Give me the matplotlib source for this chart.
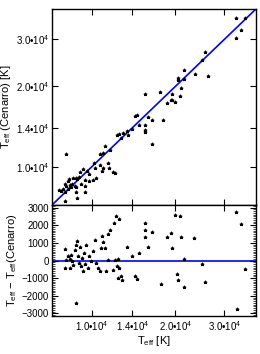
import matplotlib
matplotlib.use('Agg')
import matplotlib.pyplot as plt
from matplotlib.ticker import FixedLocator, MultipleLocator, NullLocator

plt.rcParams['font.family'] = ['Liberation Sans', 'DejaVu Sans']
plt.rcParams['mathtext.fontset'] = 'custom'
plt.rcParams['mathtext.rm'] = 'Liberation Sans'
plt.rcParams['mathtext.it'] = 'Liberation Sans'

# upper panel: T_eff vs T_eff(Cenarro)
teff = [33100, 35500, 34400, 33000, 25500, 25000, 21500, 23500, 26200, 20400,
        20500, 21400, 15500, 17600, 21000, 19400, 19500, 20800, 18700, 19300,
        19900, 14300, 14500, 16000, 16500, 18000, 14000, 14800, 15600, 15500,
        15600, 16500,
        12300, 12500, 12700, 13000, 13400, 13500, 11200, 8100, 10200, 9600,
        10250, 10700, 11000, 11400, 11550, 11900, 12100, 10900, 9100, 9300,
        9800, 8200, 8300, 8560, 8750, 8850, 9000, 7990, 8100, 8330,
        8500, 8680, 8800, 8450, 8200, 7870, 7770, 7660, 7990, 8800,
        9440, 8850, 8050, 9800, 10100, 10400, 9440, 9180, 9500, 10700,
        11000, 11600]
teff_cen = [36100, 36100, 32400, 30400, 26900, 25200, 23000, 22300, 21900, 21500,
            21200, 21400, 18700, 19000, 19700, 18800, 17800, 18400, 17400, 17800,
            17500, 15500, 15600, 15300, 15000, 15000, 13800, 14400, 14300, 13700,
            13500, 12200,
            13100, 13300, 12800, 13400, 13600, 13200, 12000, 11200, 10300, 9660,
            9940, 10200, 9940, 10300, 9940, 9600, 9500, 9660, 9580, 9800,
            9390, 8870, 9000, 9070, 9120, 9000, 9180, 8620, 8490, 8570,
            8660, 8490, 8370, 8370, 8250, 8250, 8090, 8180, 8020, 8020,
            8020, 7640, 7470, 8870, 8920, 9070, 8920, 8620, 8490, 11150,
            11300, 11600]

# lower panel: T_eff - T_eff(Cenarro)
teff_res = [15600, 18700, 21000, 23400, 16000, 19500, 14000, 14800, 21400, 25000,
            35600, 14300, 14500, 20300, 20500, 17700, 25600, 21500, 33300, 32900,
            34500, 15600, 20000, 20800, 15500, 16500, 19300,
            8050, 8800, 7990, 8200, 8330, 8450, 8500, 8600, 8680, 8750,
            8850, 8920, 9000, 9100, 9180, 9250, 9350, 9460, 9570, 9700,
            9800, 9970, 10100, 10250, 10400, 10500, 10700, 10800, 10900, 11000,
            11200, 11300, 11450, 12100, 12300, 12450, 12550, 12700, 12800, 12450,
            11950, 9300, 8330, 8100,
            12200, 12500, 12000, 11600, 11400, 13400]
dteff = [1340, 1340, 1340, 1285, 750, 720, 245, 435, 95, -190,
         -470, -890, -1020, -790, -1130, -1320, -1230, -1490, -2730, 2770,
         2050, 2150, 2600, 2510, 1750, 1640, 1570,
         640, -2430, -415, 245, 115, 340, 0, -225, 620, 905,
         1130, 245, -130, 750, -320, 150, 435, -190, 905, -415,
         245, -40, 525, 1190, -130, -415, -565, 720, 1375, 1060,
         720, -600, 55, 55, -320, 95, -415, -890, -1075, -980,
         -510, -600, -415, 55,
         2500, 2350, 2150, 1750, 1500, 740]

lim = (7200, 39000)
tick_vals = [1.0e4, 1.4e4, 2.0e4, 3.0e4]
tick_labels = ['1.0•10$^4$', '1.4•10$^4$', '2.0•10$^4$', '3.0•10$^4$']

fig = plt.figure(figsize=(2.6, 3.54), dpi=100)
ax1 = fig.add_axes([0.2, 0.421, 0.785, 0.554])
ax2 = fig.add_axes([0.2, 0.107, 0.785, 0.314])

ax1.plot(lim, lim, color='blue', lw=1.2, zorder=1)
ax1.plot(teff, teff_cen, ls='none', marker='*', ms=2.5, mew=0.6, color='black', zorder=2)
ax1.set_xscale('log')
ax1.set_yscale('log')
ax1.set_xlim(lim)
ax1.set_ylim(lim)
ax1.xaxis.set_major_locator(FixedLocator(tick_vals))
ax1.yaxis.set_major_locator(FixedLocator(tick_vals))
ax1.xaxis.set_minor_locator(NullLocator())
ax1.yaxis.set_minor_locator(NullLocator())
ax1.set_yticklabels(tick_labels)
ax1.set_xticklabels([])
ax1.set_ylabel('T$_{eff}$ (Cenarro) [K]', fontsize=8, labelpad=2)

ax2.axhline(0, color='blue', lw=1.2, zorder=1)
ax2.plot(teff_res, dteff, ls='none', marker='*', ms=2.5, mew=0.6, color='black', zorder=2)
ax2.set_xscale('log')
ax2.set_xlim(lim)
ax2.set_ylim(-3150, 3150)
ax2.xaxis.set_major_locator(FixedLocator(tick_vals))
ax2.xaxis.set_minor_locator(NullLocator())
ax2.set_xticklabels(tick_labels)
ax2.yaxis.set_major_locator(MultipleLocator(1000))
ax2.yaxis.set_minor_locator(MultipleLocator(100))
ax2.set_yticks([3000, 2000, 1000, 0, -1000, -2000, -3000])
ax2.set_yticklabels(['3000', '2000', '1000', '0', '\u22121000', '\u22122000', '\u22123000'])
ax2.set_xlabel('T$_{eff}$ [K]', fontsize=8, labelpad=1)
ax2.set_ylabel('T$_{eff}$ \u2212 T$_{eff}$(Cenarro)', fontsize=8, labelpad=2)

for ax in (ax1, ax2):
    for s in ax.spines.values():
        s.set_linewidth(1.0)
    ax.tick_params(which='both', direction='in', top=True, right=True,
                   labelsize=7, pad=2, width=0.8)
    ax.tick_params(which='major', length=4)
    ax.tick_params(which='minor', length=2, width=0.5)

fig.savefig('out.png', dpi=100)
